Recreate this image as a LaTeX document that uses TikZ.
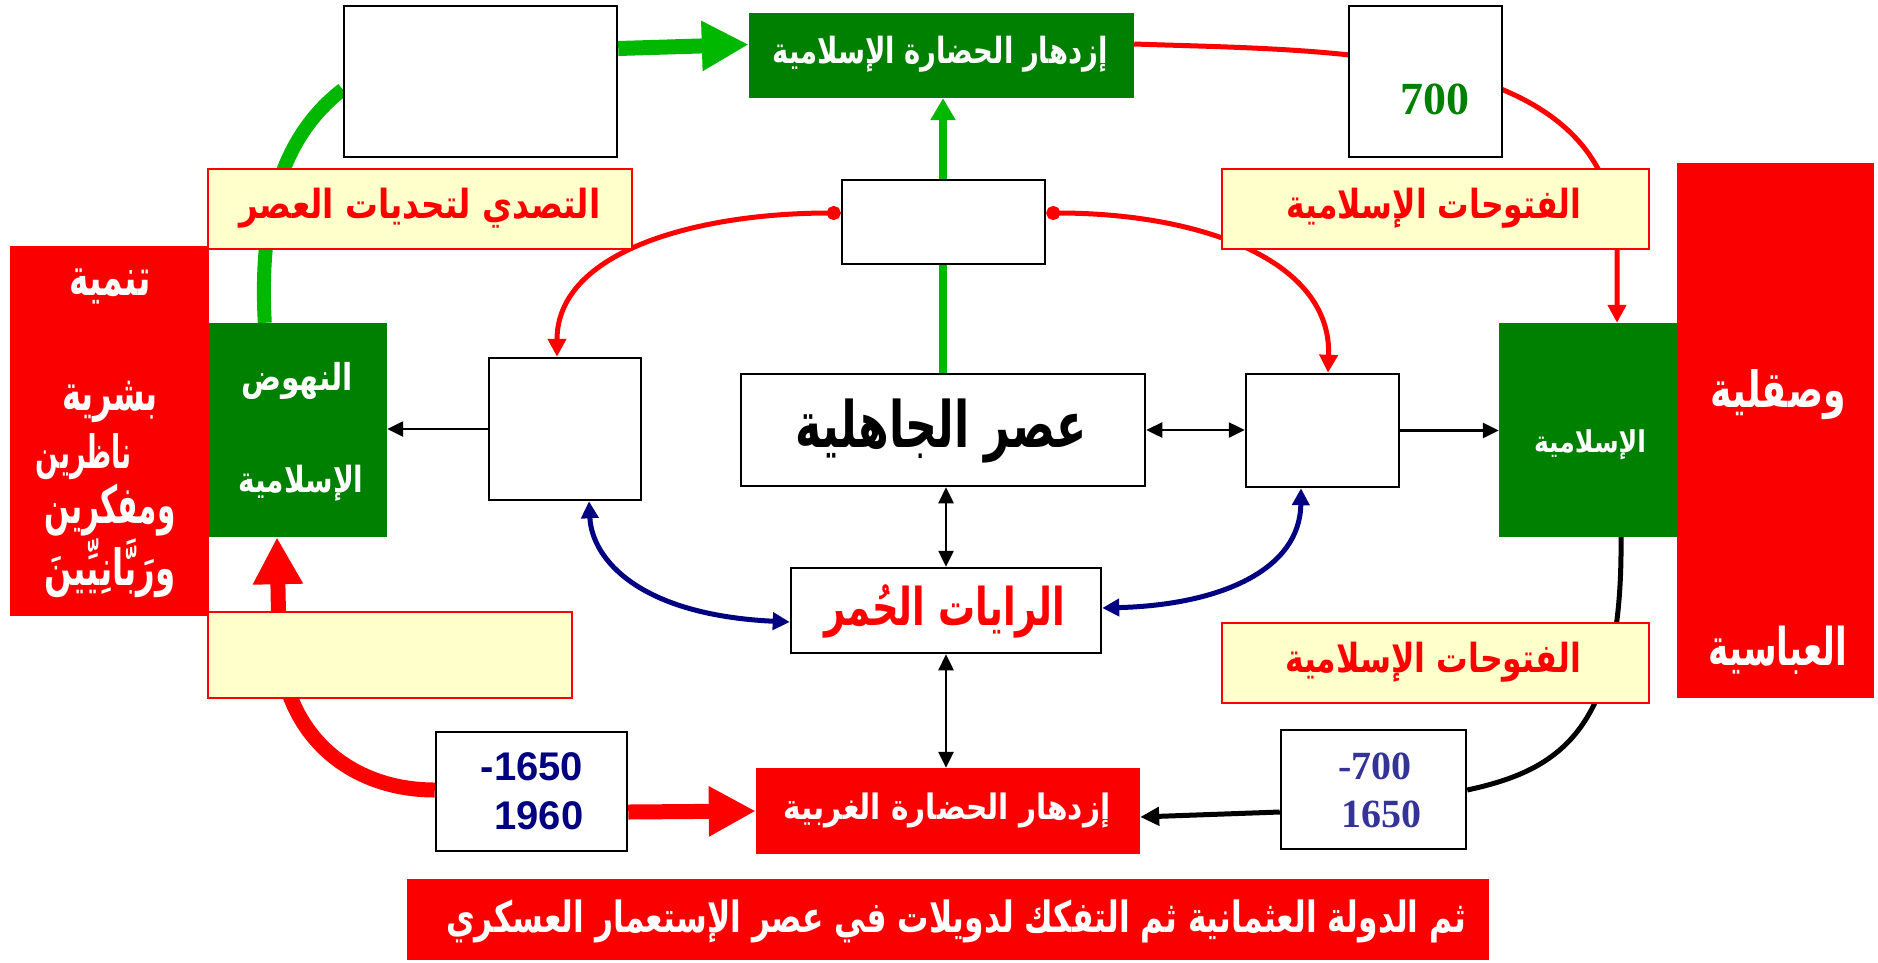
\documentclass[tikz,border=0pt]{standalone}
\usepackage{fontspec}
\usepackage{graphicx}
\TeXXeTstate=1
\newfontfamily\arabicfont[Script=Arabic]{DejaVu Sans}
\newfontfamily\serifnum{Liberation Serif}
\newfontfamily\sansnum{Liberation Sans}
\usetikzlibrary{arrows.meta,calc,fit}
\definecolor{boxgreen}{RGB}{0,128,0}
\definecolor{linegreen}{RGB}{0,184,0}
\definecolor{boxred}{RGB}{250,0,0}
\definecolor{paleyellow}{RGB}{255,255,204}
\definecolor{navyblue}{RGB}{0,0,128}
\definecolor{dateblue}{RGB}{51,51,153}
\pgfdeclarelayer{bg}
\pgfsetlayers{bg,main}
% #1 target width, #2 font size, #3 text (with its own \beginR ... \endR)
\newcommand{\AR}[3]{\resizebox{#1}{\height}{\arabicfont\bfseries\fontsize{#2}{#2}\selectfont #3}}
\tikzset{
  whitebox/.style={draw=black, line width=2.5pt, fill=white, inner sep=0pt},
  yellowbox/.style={draw=red, line width=2.5pt, fill=paleyellow, inner sep=0pt},
  greenbox/.style={fill=boxgreen, inner sep=0pt},
  redbox/.style={fill=boxred, inner sep=0pt},
  lbl/.style={inner sep=0pt, anchor=base},
  wlbl/.style={lbl, text=white},
  rlbl/.style={lbl, text=red},
  serifdate/.style={inner sep=0pt, text=dateblue, font=\serifnum\bfseries\fontsize{40pt}{40pt}\selectfont},
  sansdate/.style={inner sep=0pt, text=navyblue, font=\sansnum\bfseries\fontsize{40pt}{40pt}\selectfont},
  thinarrow/.style={draw=black, line width=2.5pt, -{Triangle[length=16pt,width=15pt]}},
  thindouble/.style={draw=black, line width=2.5pt, {Triangle[length=16pt,width=15pt]}-{Triangle[length=16pt,width=15pt]}},
  redcurve/.style={draw=red, line width=5pt, {Circle[length=14pt]}-{Triangle[length=18pt,width=18pt]}},
  redlink/.style={draw=red, line width=5pt, -{Triangle[length=18pt,width=18pt]}},
  bluecurve/.style={draw=navyblue, line width=5pt, {Triangle[length=17pt,width=17pt]}-{Triangle[length=17pt,width=17pt]}},
  bigred/.style={draw=red, line width=15pt, -{Triangle[length=47pt,width=47pt]}},
  biggreen/.style={draw=linegreen, line width=15pt, -{Triangle[length=47pt,width=47pt]}},
  greenup/.style={draw=linegreen, line width=8pt, -{Triangle[length=22pt,width=24pt]}},
  greenband/.style={draw=linegreen, line width=14pt},
  blackband/.style={draw=black, line width=5pt},
  blackarrow/.style={draw=black, line width=5pt, -{Triangle[length=19pt,width=18pt]}}
}
\begin{document}
\begin{tikzpicture}[x=1pt,y=1pt]
\useasboundingbox (0,0) rectangle (1878,-962);
% ---------- boxes ----------
\node[whitebox, fit={(344,-6) (617,-157)}] (TL) {};
\node[greenbox, fit={(749,-13) (1134,-98)}] (GTop) {};
\node[whitebox, fit={(1349,-6) (1502,-157)}] (B700) {};
\node[whitebox, fit={(842,-180) (1045,-264)}] (ST) {};
\node[redbox, fit={(10,-246) (209,-616)}] (RL) {};
\node[greenbox, fit={(209,-323) (387,-537)}] (GL) {};
\node[yellowbox, fit={(208,-169) (632,-249)}] (YL) {};
\node[yellowbox, fit={(1222,-169) (1649,-249)}] (YTR) {};
\node[whitebox, fit={(489,-358) (641,-500)}] (BL) {};
\node[yellowbox, fit={(208,-612) (572,-698)}] (YBL) {};
\node[whitebox, fit={(741,-374) (1145,-486)}] (C) {};
\node[whitebox, fit={(1246,-374) (1399,-487)}] (BR) {};
\node[greenbox, fit={(1499,-323) (1677,-537)}] (GR) {};
\node[redbox, fit={(1677,-163) (1874,-698)}] (RR) {};
\node[whitebox, fit={(791,-568) (1101,-653)}] (FL) {};
\node[yellowbox, fit={(1222,-623) (1649,-703)}] (YBR) {};
\node[whitebox, fit={(1281,-730) (1466,-849)}] (B7b) {};
\node[redbox, fit={(756,-768) (1140,-854)}] (RW) {};
\node[whitebox, fit={(436,-732) (627,-851)}] (B16) {};
\node[redbox, fit={(407,-879) (1489,-960)}] (BAN) {};
% ---------- texts ----------
\node[wlbl] (GTopT) at (940,-63) {\AR{335pt}{36pt}{\beginR إزدهار الحضارة الإسلامية\endR}};
\node[rlbl] (YLT) at (420,-218) {\AR{361pt}{40pt}{\beginR التصدي لتحديات العصر\endR}};
\node[rlbl] (YTRT) at (1434,-218) {\AR{295pt}{40pt}{\beginR الفتوحات الإسلامية\endR}};
\node[lbl, text=black] (CT) at (941,-447) {\AR{291pt}{64pt}{\beginR عصر الجاهلية\endR}};
\node[rlbl] (FLT) at (945,-625) {\AR{241pt}{52pt}{\beginR الرايات الحُمر\endR}};
\node[rlbl] (YBRT) at (1433,-672) {\AR{296pt}{40pt}{\beginR الفتوحات الإسلامية\endR}};
\node[wlbl] (RWT) at (947,-819) {\AR{327pt}{35pt}{\beginR إزدهار الحضارة الغربية\endR}};
\node[wlbl] (BANT) at (956,-932) {\AR{1020pt}{43pt}{\beginR ثم الدولة العثمانية ثم التفكك لدويلات في عصر الإستعمار العسكري\endR}};
\node[wlbl] (GL1) at (297,-390) {\AR{112pt}{37pt}{\beginR النهوض\endR}};
\node[wlbl] (GL2) at (301,-492) {\AR{125pt}{36pt}{\beginR الإسلامية\endR}};
\node[wlbl] (GR1) at (1590,-452) {\AR{112pt}{30pt}{\beginR الإسلامية\endR}};
\node[wlbl] (RL1) at (110,-295) {\AR{81pt}{52pt}{\beginR تنمية\endR}};
\node[wlbl] (RL2) at (110,-410) {\AR{96pt}{50pt}{\beginR بشرية\endR}};
\node[wlbl] (RL3) at (84,-468) {\AR{96pt}{46pt}{\beginR ناظرين\endR}};
\node[wlbl] (RL4) at (110,-523) {\AR{131pt}{52pt}{\beginR ومفكرين\endR}};
\node[wlbl] (RL5) at (110,-585) {\AR{131pt}{50pt}{\beginR ورَبَّانِيِّينَ\endR}};
\node[wlbl] (RR1) at (1778,-407) {\AR{135pt}{50pt}{\beginR وصقلية\endR}};
\node[wlbl] (RR2) at (1778,-665) {\AR{139pt}{52pt}{\beginR العباسية\endR}};
\node[inner sep=0pt, text=boxgreen, font=\serifnum\bfseries\fontsize{46pt}{46pt}\selectfont] (T700) at (1435,-99) {700};
\node[serifdate] (D1) at (1375,-766) {-700};
\node[serifdate] (D2) at (1381,-814) {1650};
\node[sansdate] (D3) at (532,-767) {-1650};
\node[sansdate] (D4) at (539,-816) {1960};
% ---------- connectors ----------
\begin{pgfonlayer}{bg}
\draw[greenband] ($(GL.north west)+(56,0)$) .. controls (258,-200) and (290,-130) .. ($(TL.west)+(0,-8)$);
\draw[biggreen] ($(TL.east)+(0,33)$) -- ($(GTop.west)+(0,11)$);
\draw[greenup] (C.north) -- (C.north |- GTop.south);
\draw[redlink] ($(GTop.east)+(0,11.5)$) to[out=-2,in=90] ($(YTR.south)+(181.5,0)$) -- ($(GR.north)+(29,0)$);
\draw[redcurve] ($(ST.west)+(0,9)$) .. controls (700,-213) and (557,-250) .. ($(BL.north)+(-8,0)$);
\draw[redcurve] ($(ST.east)+(0,9)$) .. controls (1200,-213) and (1332,-260) .. ($(BR.north)+(5.5,0)$);
\draw[thinarrow] (BL.west) -- (BL.west -| GL.east);
\draw[thindouble] (C.east) -- (C.east -| BR.west);
\draw[thinarrow] (BR.east) -- (BR.east -| GR.west);
\draw[thindouble] (FL.north |- C.south) -- (FL.north);
\draw[thindouble] (FL.south) -- (FL.south |- RW.north);
\draw[bluecurve] ($(BL.south)+(24,0)$) .. controls (592,-560) and (640,-615) .. ($(FL.west)+(0,-11.5)$);
\draw[bluecurve] ($(BR.south)+(-21.5,0)$) .. controls (1300,-570) and (1220,-605) .. ($(FL.east)+(0,2.5)$);
\draw[bigred] ($(B16.west)+(0,1.5)$) .. controls (350,-790) and (283,-735) .. (279,-640) -- ($(GL.south)+(-21,0)$);
\draw[bigred] ($(B16.east)+(0,-20.5)$) -- (RW.west);
\draw[blackband] ($(GR.south)+(33,0)$) .. controls (1623,-730) and (1560,-770) .. ($(B7b.east)+(0,-0.5)$);
\draw[blackarrow] ($(B7b.west)+(0,-22.5)$) -- ($(RW.east)+(0,-6)$);
\end{pgfonlayer}
\end{tikzpicture}
\end{document}
